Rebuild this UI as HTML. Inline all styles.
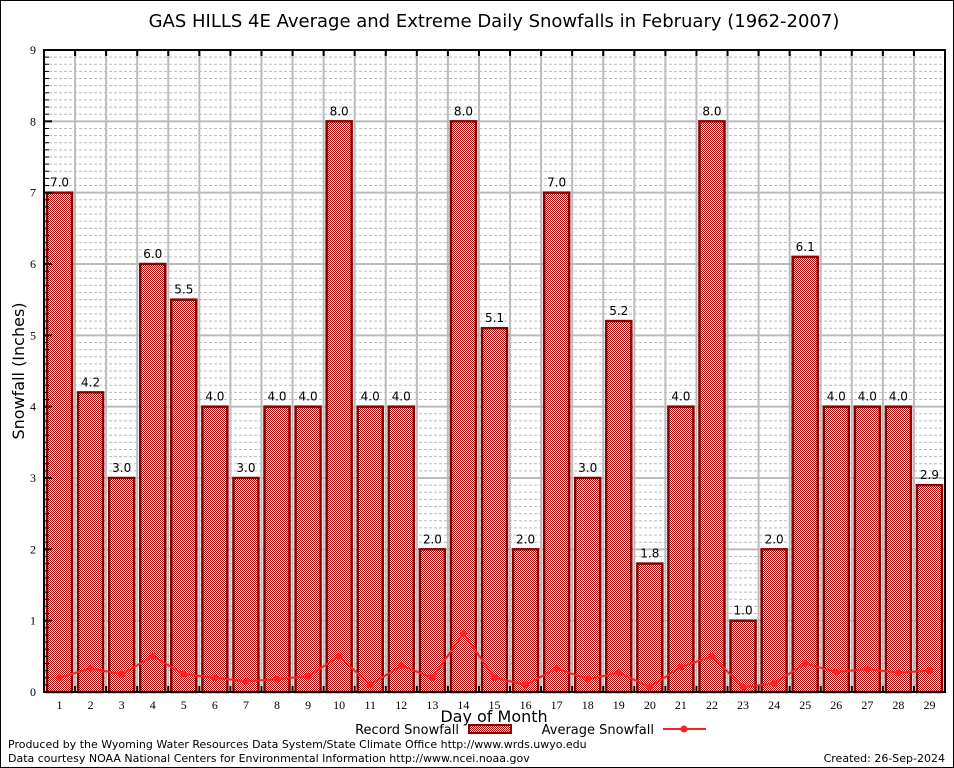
<!DOCTYPE html>
<html><head><meta charset="utf-8"><style>
body{margin:0;background:#fff;}
svg{display:block;font-family:"DejaVu Sans","Liberation Sans",sans-serif;}
</style></head><body>
<svg id="chart" width="954" height="768">
<defs>
<pattern id="chk" width="2" height="2" patternUnits="userSpaceOnUse">
<rect width="2" height="2" fill="#fff"/><rect width="1" height="1" fill="#a80000"/><rect x="1" y="1" width="1" height="1" fill="#a80000"/>
</pattern>
</defs>
<rect x="0.5" y="0.5" width="953" height="767" fill="#fff" stroke="#000"/>
<text x="494" y="27" font-size="18" text-anchor="middle">GAS HILLS 4E Average and Extreme Daily Snowfalls in February (1962-2007)</text>
<g id="grid"></g>
<g id="bars"></g>
<g id="line"></g>
<g id="axes"></g>
<text x="24" y="371" font-size="16" text-anchor="middle" transform="rotate(-90 24 371)">Snowfall (Inches)</text>
<text x="494" y="722" font-size="16" text-anchor="middle">Day of Month</text>
<g>
<text x="459" y="734" font-size="13" text-anchor="end">Record Snowfall</text>
<rect x="469" y="725" width="42" height="8" fill="url(#chk)" stroke="#8b0000" stroke-width="2"/>
<text x="654" y="734" font-size="13" text-anchor="end">Average Snowfall</text>
<line x1="663" y1="729" x2="706" y2="729" stroke="#ff2020" stroke-width="2"/>
<circle cx="684" cy="729" r="3.5" fill="#ff2020"/>
</g>
<text x="8" y="748" font-size="11">Produced by the Wyoming Water Resources Data System/State Climate Office http://www.wrds.uwyo.edu</text>
<text x="8" y="762" font-size="11">Data courtesy NOAA National Centers for Environmental Information http://www.ncei.noaa.gov</text>
<text x="945" y="762" font-size="11" text-anchor="end">Created:  26-Sep-2024</text>
</svg>
<script>
const days = [1,2,3,4,5,6,7,8,9,10,11,12,13,14,15,16,17,18,19,20,21,22,23,24,25,26,27,28,29];
const recordValues = [7.0,4.2,3.0,6.0,5.5,4.0,3.0,4.0,4.0,8.0,4.0,4.0,2.0,8.0,5.1,2.0,7.0,3.0,5.2,1.8,4.0,8.0,1.0,2.0,6.1,4.0,4.0,4.0,2.9];
const averageValues = [0.2,0.33,0.25,0.5,0.25,0.2,0.15,0.18,0.22,0.5,0.1,0.37,0.2,0.82,0.2,0.1,0.33,0.18,0.27,0.07,0.35,0.5,0.07,0.12,0.4,0.28,0.32,0.27,0.3];
const yTicks = [0,1,2,3,4,5,6,7,8,9];
const NS='http://www.w3.org/2000/svg';
const L=44,R=945,T=50,B=692,YMAX=9;
const bw=(R-L)/days.length;
const xs=d=>L+bw*(d-0.5);
const ys=v=>B-(v/YMAX)*(B-T);
function mk(tag,attrs,parent){const e=document.createElementNS(NS,tag);for(const k in attrs)e.setAttribute(k,attrs[k]);parent.appendChild(e);return e;}
const grid=document.getElementById('grid'),bars=document.getElementById('bars'),line=document.getElementById('line'),axes=document.getElementById('axes');
mk('rect',{x:L,y:T,width:R-L,height:B-T,fill:'#fff'},grid);
for(let i=1;i<YMAX*10;i++){if(i%10===0)continue;const y=ys(i/10);
const g=mk('line',{x1:L,x2:R,y1:y,y2:y,stroke:'#bbb','stroke-width':1,'stroke-dasharray':'3,2'},grid);


mk('line',{x1:L,x2:L+5,y1:y,y2:y,stroke:'#000'},axes);}
yTicks.forEach(v=>{const y=ys(v);
const g=mk('line',{x1:L,x2:R,y1:y,y2:y,stroke:'#bbb','stroke-width':2},grid);


mk('line',{x1:L,x2:L+8,y1:y,y2:y,stroke:'#000','stroke-width':2},axes);
const t=mk('text',{x:L-8,y:y+4,'font-size':12,'text-anchor':'end','font-family':'Liberation Serif,serif'},axes);t.textContent=v;

});
for(let i=1;i<days.length;i++){const x=L+bw*i;
const g=mk('line',{x1:x,x2:x,y1:T,y2:B,stroke:'#bbb','stroke-width':2},grid);


mk('line',{x1:x,x2:x,y1:T,y2:T+6,stroke:'#000','stroke-width':2},axes);
mk('line',{x1:x,x2:x,y1:B,y2:B-6,stroke:'#000','stroke-width':2},axes);}
days.forEach((d,i)=>{const v=recordValues[i],x=xs(d),w=25,y=ys(v);
const r=mk('rect',{x:x-w/2,y:y,width:w,height:B-y,fill:'url(#chk)',stroke:'#8b0000','stroke-width':2.5},bars);


const t=mk('text',{x:x,y:y-6,'font-size':12,'text-anchor':'middle'},bars);t.textContent=v.toFixed(1);


const xt=mk('text',{x:x,y:B+17,'font-size':12,'text-anchor':'middle','font-family':'Liberation Serif,serif'},axes);xt.textContent=d;

});
const pts=days.map((d,i)=>xs(d)+','+ys(averageValues[i])).join(' ');
const pl=mk('polyline',{points:pts,fill:'none',stroke:'#ff2020','stroke-width':2},line);


days.forEach((d,i)=>{const c=mk('circle',{cx:xs(d),cy:ys(averageValues[i]),r:3.5,fill:'#ff2020'},line);

});
const fr=mk('rect',{x:L,y:T,width:R-L,height:B-T,fill:'none',stroke:'#000','stroke-width':2},axes);


</script>
</body></html>
